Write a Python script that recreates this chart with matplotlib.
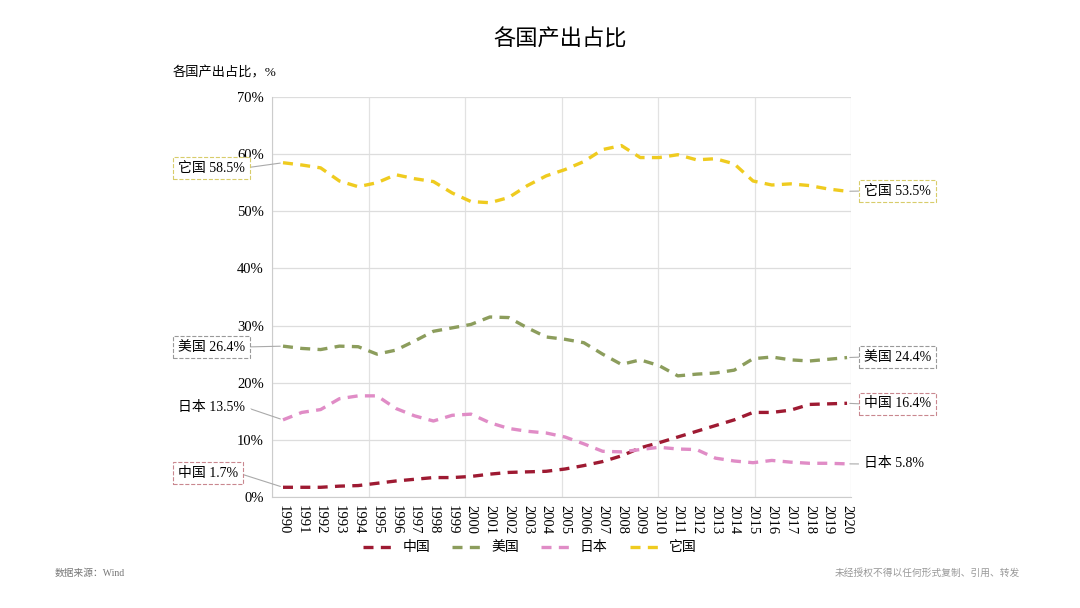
import numpy as np
import matplotlib.pyplot as plt

plt.rcParams['font.family'] = ['Liberation Serif', 'Noto Sans CJK SC']

years = list(range(1990, 2021))
china = [1.7, 1.7, 1.7, 1.9, 2.0, 2.4, 2.8, 3.1, 3.4, 3.4, 3.6, 4.0, 4.3, 4.4, 4.5, 4.9,
         5.5, 6.2, 7.2, 8.6, 9.5, 10.5, 11.5, 12.5, 13.5, 14.8, 14.8, 15.2, 16.2, 16.3, 16.4]
usa = [26.4, 26.0, 25.8, 26.4, 26.3, 25.0, 25.7, 27.3, 29.0, 29.6, 30.2, 31.5, 31.4, 29.6, 28.0, 27.6,
       27.0, 25.0, 23.2, 24.0, 23.0, 21.2, 21.5, 21.7, 22.2, 24.2, 24.5, 24.0, 23.8, 24.1, 24.4]
japan = [13.5, 14.8, 15.3, 17.2, 17.7, 17.7, 15.5, 14.2, 13.3, 14.3, 14.5, 13.0, 12.0, 11.5, 11.2, 10.5,
         9.3, 8.0, 7.9, 8.3, 8.7, 8.4, 8.3, 6.8, 6.3, 6.0, 6.4, 6.1, 5.9, 5.9, 5.8]
others = [58.5, 58.1, 57.6, 55.3, 54.3, 55.0, 56.4, 55.7, 55.2, 53.2, 51.7, 51.5, 52.4, 54.5, 56.2, 57.3,
          58.7, 60.8, 61.5, 59.4, 59.4, 59.9, 59.0, 59.2, 58.3, 55.3, 54.6, 54.8, 54.5, 53.9, 53.5]
names = ['中国', '美国', '日本', '它国']
colors = ['#9E1A32', '#8C9D5C', '#E08CC6', '#EFCB1F']
box_edges = ['#C9878F', '#999999', 'white', '#D8CC6A']
series = [china, usa, japan, others]

fig = plt.figure(figsize=(10.8, 6.08), dpi=100)
ax = fig.add_axes([272 / 1080, 1 - 497 / 608, (851 - 272) / 1080, (497 - 97) / 608])

for vals, name, c in zip(series, names, colors):
    ax.plot(years, vals, color=c, lw=2.4, ls=(0, (3, 2.2)), label=name)

x0, x1 = 1989.415, 2020.21
ax.set_xlim(x0, x1)
ax.set_ylim(0, 70)
ax.set_yticks(range(0, 71, 10))
ax.set_yticklabels([f'{v}%' for v in range(0, 71, 10)], fontsize=10.5)
ax.set_xticks(years)
ax.set_xticklabels([str(y) for y in years], rotation=270, fontsize=10.5)
ax.tick_params(length=0, pad=6)
ax.grid(axis='y', color='#dddddd', lw=0.9)
for gx in np.linspace(x0, x1, 7):
    ax.axvline(gx, color='#e2e2e2', lw=0.9, zorder=0)
for s in ['top', 'right']:
    ax.spines[s].set_visible(False)
for s in ['left', 'bottom']:
    ax.spines[s].set_color('#cccccc')

# endpoint labels
for vals, name, ec in zip(series, names, box_edges):
    ax.annotate(f'{name} {vals[0]}%', xy=(years[0], vals[0]),
                xytext=(178 / 1080, 1 - {0: 473, 1: 347, 2: 407, 3: 168}[names.index(name)] / 608),
                textcoords='figure fraction', ha='left', va='center', fontsize=10,
                bbox=dict(boxstyle='square,pad=0.35', fc='white', ec=ec, ls='--', lw=0.8),
                arrowprops=dict(arrowstyle='-', color='#aaaaaa', lw=0.8, relpos=(1, 0.5),
                                shrinkA=0, shrinkB=2))
    ax.annotate(f'{name} {vals[-1]}%', xy=(years[-1], vals[-1]),
                xytext=(864 / 1080, 1 - {0: 404, 1: 357, 2: 464, 3: 191}[names.index(name)] / 608),
                textcoords='figure fraction', ha='left', va='center', fontsize=10,
                bbox=dict(boxstyle='square,pad=0.35', fc='white', ec=ec, ls='--', lw=0.8),
                arrowprops=dict(arrowstyle='-', color='#aaaaaa', lw=0.8, relpos=(0, 0.5),
                                shrinkA=0, shrinkB=2))

fig.text(560 / 1080, 1 - 40 / 608, '各国产出占比', ha='center', va='center', fontsize=16)
fig.text(173 / 1080, 1 - 73 / 608, '各国产出占比，%', ha='left', va='center', fontsize=9.5)
fig.text(55 / 1080, 1 - 573 / 608, '数据来源：Wind', ha='left', va='center', fontsize=7, color='#777777')
fig.text(1020 / 1080, 1 - 573 / 608, '未经授权不得以任何形式复制、引用、转发', ha='right', va='center',
         fontsize=7, color='#999999')

fig.legend(loc='center', bbox_to_anchor=(530 / 1080, 1 - 548 / 608), ncol=4, frameon=False,
           fontsize=10, handlelength=2.4, columnspacing=1.6, handletextpad=0.4)

fig.savefig('out.png', dpi=100)
